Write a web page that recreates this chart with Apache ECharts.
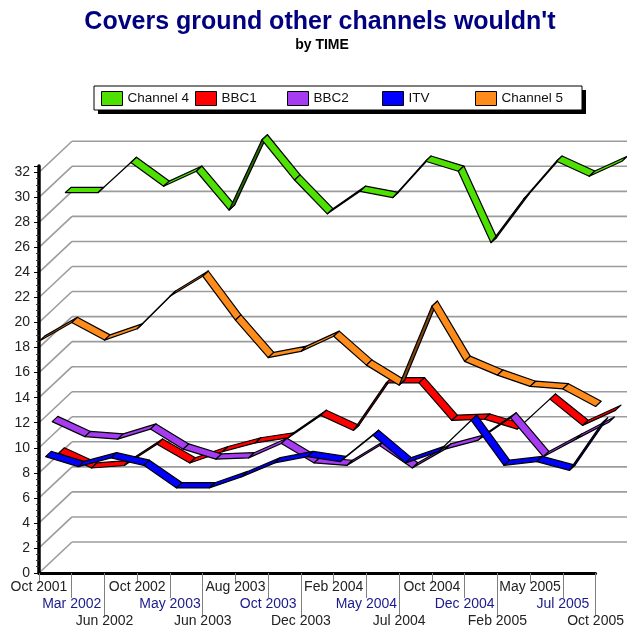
<!DOCTYPE html>
<html><head><meta charset="utf-8">
<script src="https://cdn.jsdelivr.net/npm/echarts@6/dist/echarts.min.js"></script>
<style>html,body{margin:0;padding:0;background:#fff}#c{width:627px;height:629px}</style>
</head><body><div id="c"></div>
<script>
// ---- data ----
const categories = ['Oct 2001','Mar 2002','Jun 2002','Oct 2002','May 2003','Jun 2003','Aug 2003','Oct 2003','Dec 2003','Feb 2004','May 2004','Jul 2004','Oct 2004','Dec 2004','Feb 2005','May 2005','Jul 2005','Oct 2005'];
const channel4 = [28.4, 28.4, 30.8, 28.9, 30.1, 27.0, 32.6, 29.4, 26.7, 28.5, 28.0, 30.9, 30.1, 24.4, 27.9, 30.9, 29.7, 30.9];
const bbc1     = [8.1, 6.9, 7.1, 8.8, 7.3, 8.2, 8.9, 9.3, 11.1, 9.9, 13.7, 13.7, 10.7, 10.8, 10.0, 12.4, 10.3, 11.5];
const bbc2     = [11.1, 9.9, 9.7, 10.5, 8.9, 8.1, 8.2, 9.35, 7.8, 7.6, 9.2, 7.4, 8.9, 9.6, 11.4, 8.3, 9.7, 11.05];
const itv      = [8.8, 8.0, 8.7, 8.1, 6.3, 6.3, 7.2, 8.3, 8.8, 8.4, 10.5, 8.3, 9.2, 11.7, 8.1, 8.4, 7.7, 11.5];
const channel5 = [18.5, 20.0, 18.6, 19.5, 22.1, 23.7, 20.2, 17.2, 17.7, 18.9, 16.6, 15.0, 21.3, 16.9, 15.8, 14.9, 14.7, 13.3];
const yTicks = [0,2,4,6,8,10,12,14,16,18,20,22,24,26,28,30,32];
const seriesNames = ['Channel 4','BBC1','BBC2','ITV','Channel 5'];

// ---- style ----
const FONT = "'Liberation Sans', Arial, sans-serif";
const DEPTH = [33, -31];
const SLOT = [6.6, -6.2];
const THICK = [5.6, -5.2];
const colors = {'Channel 4':'#4ee000','BBC1':'#ff0000','BBC2':'#a53cf2','ITV':'#0000ff','Channel 5':'#ff8c1a'};
const legendLefts = [101, 195, 287, 382, 475];

function shade(hex, f) {
  const n = parseInt(hex.slice(1), 16);
  const r = Math.round(((n >> 16) & 255) * f), g = Math.round(((n >> 8) & 255) * f), b = Math.round((n & 255) * f);
  return 'rgb(' + r + ',' + g + ',' + b + ')';
}

function ribbon(name, values, slot) {
  const color = colors[name];
  const dark = shade(color, 0.5);
  return {
    type: 'custom', name: name, coordinateSystem: 'cartesian2d', xAxisIndex: 0, yAxisIndex: 0,
    clip: false, z: 2, silent: true,
    itemStyle: { color: color },
    data: values.map((v, k) => [k, v]),
    renderItem: function (params, api) {
      const k = api.value(0);
      if (k >= values.length - 1) return null;
      const a = api.coord([k, api.value(1)]);
      const b = api.coord([k + 1, values[k + 1]]);
      const ox = SLOT[0] * slot, oy = SLOT[1] * slot;
      const f1 = [a[0] + ox, a[1] + oy], f2 = [b[0] + ox, b[1] + oy];
      const b1 = [f1[0] + THICK[0], f1[1] + THICK[1]], b2 = [f2[0] + THICK[0], f2[1] + THICK[1]];
      const dx = f2[0] - f1[0], dy = f2[1] - f1[1];
      const cross = dx * THICK[1] - dy * THICK[0];
      return { type: 'polygon', shape: { points: [f1, f2, b2, b1] },
        style: { fill: cross < 0 ? color : dark, stroke: '#000', lineWidth: 1.2, lineJoin: 'round' } };
    }
  };
}

const wall = {
  type: 'custom', coordinateSystem: 'cartesian2d', xAxisIndex: 0, yAxisIndex: 0,
  clip: false, z: 1, silent: true,
  data: yTicks.map(v => [0, v]),
  renderItem: function (params, api) {
    const p = api.coord([0, api.value(1)]);
    const pr = api.coord([categories.length - 1, api.value(1)]);
    const q = [p[0] + DEPTH[0], p[1] + DEPTH[1]];
    const st = { stroke: '#9c9c9c', lineWidth: 1.6 };
    return { type: 'group', children: [
      { type: 'line', shape: { x1: p[0], y1: p[1], x2: q[0], y2: q[1] }, style: st },
      { type: 'line', shape: { x1: q[0], y1: q[1], x2: pr[0] + DEPTH[0], y2: q[1] }, style: st }
    ] };
  }
};

const rowColors = ['#222', '#1a1a8c', '#222'];
const tickLens = [10, 25, 43];
const labelMargins = [7, 24, 41];

const option = {
  animation: false,
  backgroundColor: '#fff',
  graphic: [
    { type: 'text', x: 320, y: 10, style: { text: "Covers ground other channels wouldn't", font: "bold 25px " + FONT, fill: '#000080', align: 'center', textAlign: 'center', verticalAlign: 'top', textVerticalAlign: 'top' } },
    { type: 'text', x: 322, y: 38, style: { text: 'by TIME', font: "bold 14px " + FONT, fill: '#000', align: 'center', textAlign: 'center', verticalAlign: 'top', textVerticalAlign: 'top' } },
    { type: 'rect', z: 0, shape: { x: 98, y: 90, width: 488, height: 24 }, style: { fill: '#000' } },
    { type: 'rect', z: 0, shape: { x: 94, y: 86, width: 488, height: 24 }, style: { fill: '#fff', stroke: '#000', lineWidth: 1 } }
  ],
  legend: seriesNames.map((n, i) => ({
    data: [n], left: legendLefts[i], top: 91, orient: 'horizontal', z: 10,
    itemWidth: 21, itemHeight: 14, icon: 'rect', padding: 0,
    itemStyle: { borderColor: '#000', borderWidth: 1 },
    textStyle: { fontSize: 13.5, color: '#111', fontFamily: FONT },
    selectedMode: false
  })),
  grid: { left: 39, right: 27, top: 166, bottom: 56, containLabel: false },
  xAxis: [0, 1, 2].map(r => ({
    type: 'category', data: categories, boundaryGap: false, position: 'bottom', gridIndex: 0, z: 5,
    axisLine: { show: r === 0, onZero: false, lineStyle: { color: '#000', width: 3 } },
    axisTick: { show: true, interval: (i) => i % 3 === r, length: tickLens[r], lineStyle: { color: '#808080', width: 1 } },
    axisLabel: { interval: (i) => i % 3 === r, margin: labelMargins[r], color: rowColors[r], fontSize: 14, fontFamily: FONT },
    splitLine: { show: false }
  })),
  yAxis: {
    type: 'value', min: 0, max: 32.5, interval: 2, z: 5,
    axisLine: { show: true, lineStyle: { color: '#000', width: 3.5 } },
    axisTick: { show: true, length: 5, lineStyle: { color: '#000' } },
    minorTick: { show: true, splitNumber: 4, length: 3, lineStyle: { color: '#333' } },
    axisLabel: { formatter: v => (v % 2 === 0 ? String(v) : ''), color: '#222', fontSize: 14, margin: 9, fontFamily: FONT },
    splitLine: { show: false }
  },
  series: [
    wall,
    ribbon('Channel 4', channel4, 4),
    ribbon('BBC1', bbc1, 3),
    ribbon('BBC2', bbc2, 2),
    ribbon('ITV', itv, 1),
    ribbon('Channel 5', channel5, 0)
  ]
};

const chart = echarts.init(document.getElementById('c'), null, { renderer: 'canvas' });
chart.setOption(option);
</script>
</body></html>
